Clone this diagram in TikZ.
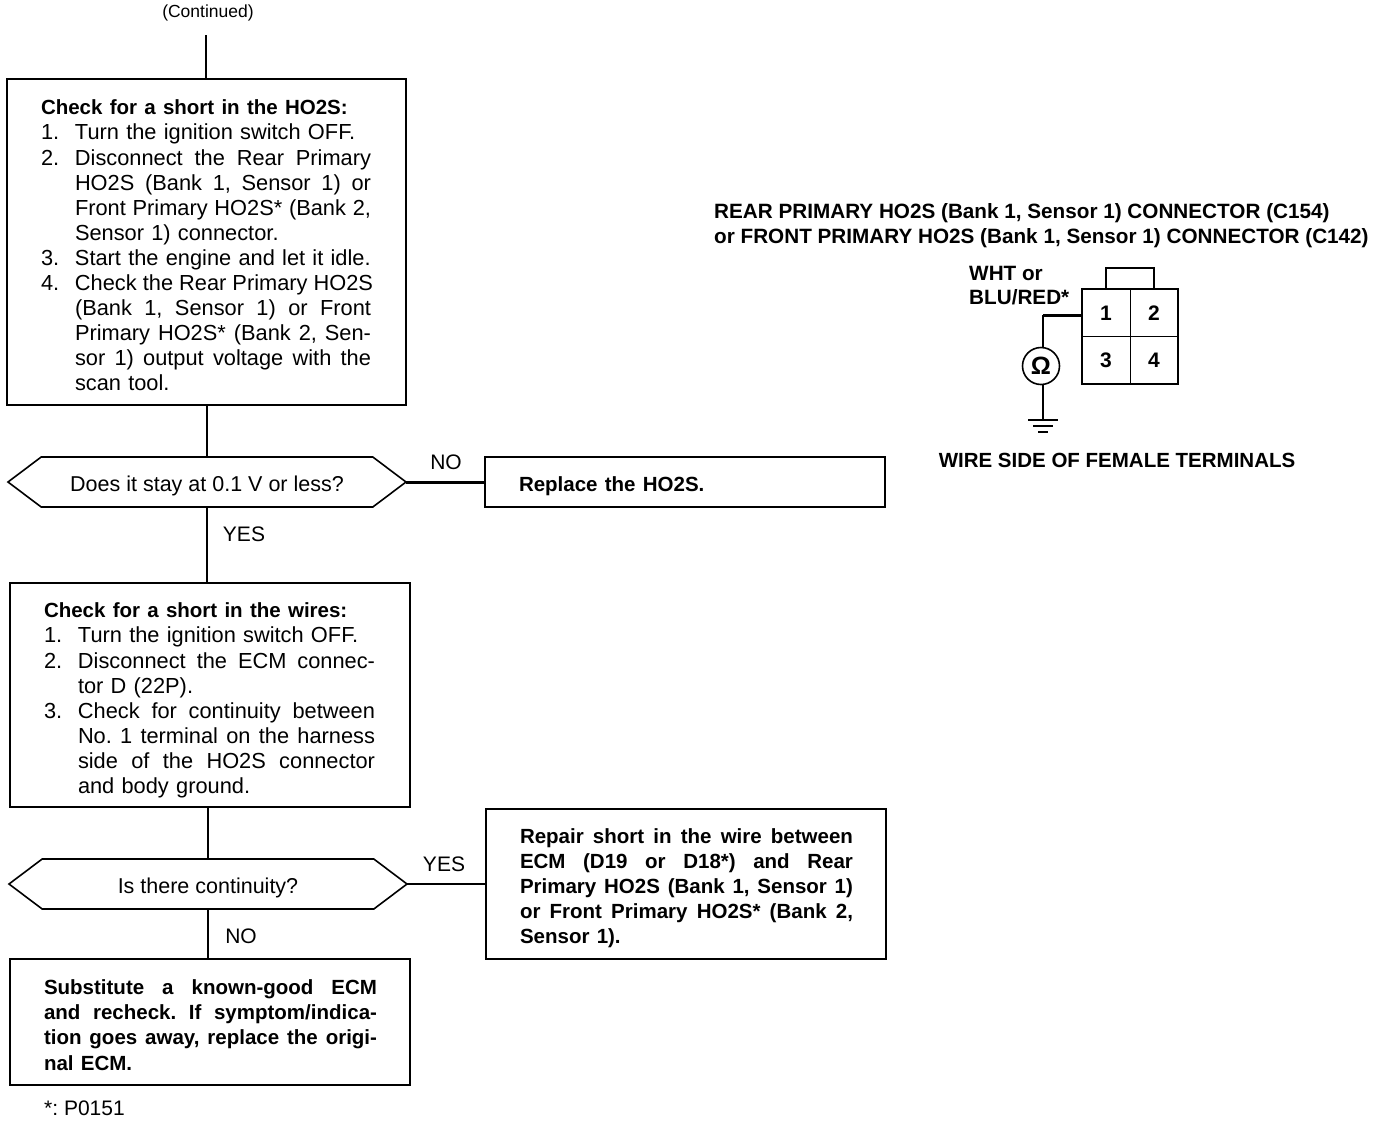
\documentclass[tikz,border=0pt]{standalone}
\usepackage{fontspec}
\setmainfont{Liberation Sans}
\usetikzlibrary{shapes.symbols}
\frenchspacing
\newcommand{\bld}[1]{{\fontsize{20.5}{25.1}\selectfont\bfseries #1}}
\newcommand{\tln}[1]{\hspace*{34pt}#1}
\newcommand{\nmi}[2]{\hspace*{34pt}\makebox[34pt][l]{#1}#2}
\newcommand{\cnt}[1]{\hspace*{68pt}#1}
\newcommand{\jst}[2]{\hbox to #1{\spaceskip=0.278em plus 1fil\relax #2}}
\newcommand{\topadj}[1]{\rule{0pt}{#1}}
\tikzset{
  x=1pt,y=-1pt,
  txt/.style={font=\fontsize{21}{25.1}\selectfont,inner sep=0pt},
  boldtxt/.style={font=\fontsize{20.7}{25.1}\selectfont\bfseries,inner sep=0pt},
  tbox/.style={draw=black,line width=1.6pt,anchor=north west,inner sep=0pt,outer sep=0pt,
    text width=#1,minimum width=#1,align=left,font=\fontsize{21.8}{25.1}\selectfont},
  tbox/.default=399pt,
  decision/.style={draw=black,line width=1.6pt,shape=signal,signal to=east and west,
    signal pointer angle=74,minimum width=398pt,minimum height=50pt,inner sep=0pt,outer sep=0pt,
    font=\fontsize{21.5}{25.1}\selectfont},
  link/.style={draw=black,line width=1.3pt},
  heavy/.style={draw=black,line width=3pt},
  cell/.style={draw=black,line width=0.8pt,minimum width=48pt,minimum height=47.5pt,inner sep=0pt,outer sep=0pt,
    font=\fontsize{21}{25.1}\selectfont\bfseries}
}
\begin{document}
\begin{tikzpicture}
\useasboundingbox (0,0) rectangle (1376,1122);
\node[txt,font=\fontsize{17.5}{20}\selectfont] (cont) at (208,13) {(Continued)};
\coordinate (conttail) at (206,35);

\node[tbox,minimum height=326pt] (b1) at (7,79) {%
\topadj{22pt}\tln{\bld{Check for a short in the HO2S:}}\\
\nmi{1.}{Turn the ignition switch OFF.}\\
\nmi{2.}{\jst{296pt}{Disconnect the Rear Primary}}\\
\cnt{\jst{296pt}{HO2S (Bank 1, Sensor 1) or}}\\
\cnt{\jst{296pt}{Front Primary HO2S* (Bank 2,}}\\
\cnt{Sensor 1) connector.}\\
\nmi{3.}{Start the engine and let it idle.}\\
\nmi{4.}{\jst{296pt}{Check the Rear Primary HO2S}}\\
\cnt{\jst{296pt}{(Bank 1, Sensor 1) or Front}}\\
\cnt{\jst{296pt}{Primary HO2S* (Bank 2, Sen-}}\\
\cnt{\jst{296pt}{sor 1) output voltage with the}}\\
\cnt{scan tool.}};

\node[decision] (d1) at (207,482) {\raisebox{-9pt}[0pt][0pt]{Does it stay at 0.1 V or less?}};
\node[tbox=400pt,minimum height=50pt] (r1) at (485,457) {\topadj{24pt}\tln{\bld{Replace the HO2S.}}};

\node[tbox=400pt,minimum height=224pt] (b2) at (10,583) {%
\topadj{26pt}\tln{\bld{Check for a short in the wires:}}\\
\nmi{1.}{Turn the ignition switch OFF.}\\
\nmi{2.}{\jst{297pt}{Disconnect the ECM connec-}}\\
\cnt{tor D (22P).}\\
\nmi{3.}{\jst{297pt}{Check for continuity between}}\\
\cnt{\jst{297pt}{No. 1 terminal on the harness}}\\
\cnt{\jst{297pt}{side of the HO2S connector}}\\
\cnt{and body ground.}};

\node[decision] (d2) at (208,884) {\raisebox{-9pt}[0pt][0pt]{Is there continuity?}};
\node[tbox=400pt,minimum height=150pt] (r2) at (486,809) {%
\topadj{23pt}\tln{\bld{\jst{333pt}{Repair short in the wire between}}}\\
\tln{\bld{\jst{333pt}{ECM (D19 or D18*) and Rear}}}\\
\tln{\bld{\jst{333pt}{Primary HO2S (Bank 1, Sensor 1)}}}\\
\tln{\bld{\jst{333pt}{or Front Primary HO2S* (Bank 2,}}}\\
\tln{\bld{Sensor 1).}}};

\node[tbox=400pt,minimum height=126pt] (b3) at (10,959) {%
\topadj{21pt}\tln{\bld{\jst{333pt}{Substitute a known-good ECM}}}\\
\tln{\bld{\jst{333pt}{and recheck. If symptom/indica-}}}\\
\tln{\bld{\jst{333pt}{tion goes away, replace the origi-}}}\\
\tln{\bld{nal ECM.}}};

\node[txt,anchor=west] (foot) at (44,1108) {*: P0151};

\draw[link] (conttail) -- (conttail |- b1.north);
\draw[link] (b1.south -| d1.north) -- (d1.north);
\draw[link] (d1.south) -- (b2.north -| d1.south);
\draw[link] (b2.south -| d2.north) -- (d2.north);
\draw[link] (d2.south) -- (b3.north -| d2.south);
\draw[heavy] (d1.east) -- (r1.west |- d1.east);
\draw[link] (d2.east) -- (r2.west |- d2.east);

\node[txt] (no1) at (446,462) {NO};
\node[txt] (yes1) at (244,534) {YES};
\node[txt] (yes2) at (444,864) {YES};
\node[txt] (no2) at (241,936) {NO};

% connector detail
\node[boldtxt,anchor=west] (t1) at (714,213) {REAR PRIMARY HO2S (Bank 1, Sensor 1) CONNECTOR (C154)};
\node[boldtxt,anchor=west] (t2) at (714,238) {or FRONT PRIMARY HO2S (Bank 1, Sensor 1) CONNECTOR (C142)};
\node[boldtxt,anchor=west] (w1) at (969,273) {WHT or};
\node[boldtxt,anchor=west] (w2) at (969,297) {BLU/RED*};

\node[cell] (c1) at (1106,313) {\raisebox{-2pt}{1}};
\node[cell] (c2) at (1154,313) {\raisebox{-2pt}{2}};
\node[cell] (c3) at (1106,360.5) {\raisebox{-2pt}{3}};
\node[cell] (c4) at (1154,360.5) {\raisebox{-2pt}{4}};
\draw[draw=black,line width=2pt] (c1.north west) -- (c2.north east) -- (c4.south east) -- (c3.south west) -- cycle;
\coordinate (tabl) at (1106,268);
\coordinate (tabr) at (1154,268);
\draw[draw=black,line width=2pt] (c1.north) -- (tabl) -- (tabr) -- (c2.north);

\node[draw=black,line width=1.6pt,circle,minimum size=37pt,inner sep=0pt,
  font=\fontsize{25}{25}\selectfont\bfseries] (ohm) at (1041,366) {Ω};
\coordinate (bend) at (1043,315);
\coordinate (gnd) at (1043,420);
\draw[heavy] (c1.west |- bend) -- (bend);
\draw[link] (bend) -- (ohm.north -| bend);
\draw[link] (ohm.south -| gnd) -- (gnd);
\draw[link] (gnd) ++(-15,0) -- ++(30,0);
\draw[link] (gnd) ++(-10,6) -- ++(20,0);
\draw[link] (gnd) ++(-5,12) -- ++(10,0);

\node[boldtxt,font=\fontsize{20.5}{25}\selectfont\bfseries] (w3) at (1117,460) {WIRE SIDE OF FEMALE TERMINALS};
\end{tikzpicture}
\end{document}
